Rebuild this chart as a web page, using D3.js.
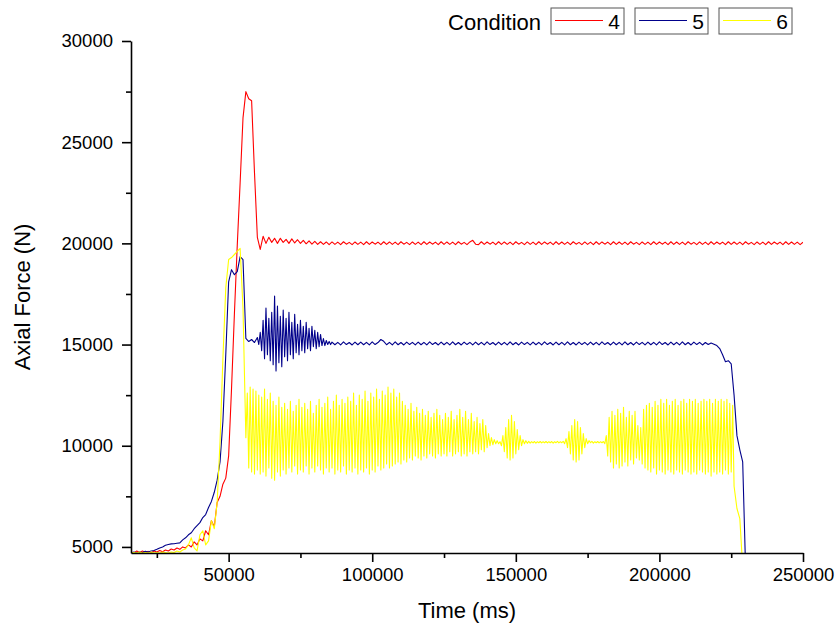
<!DOCTYPE html>
<html>
<head>
<meta charset="utf-8">
<script src="https://cdn.jsdelivr.net/npm/d3@7"></script>
<style>
  body { margin: 0; background: #fff; }
  svg { display: block; font-family: "Liberation Sans", Arial, sans-serif; }
</style>
</head>
<body>
<svg id="vis" width="839" height="637"></svg>
<script>
// sample times (ms) for each condition; readings are denser where the load oscillates
const condition4Time = d3.range(16000, 251000, 1000);
const condition5Time = [...d3.range(16000, 60000, 1000), ...d3.range(60000, 86000, 500), ...d3.range(86000, 231000, 1000)];
const condition6Time = [...d3.range(16000, 56000, 1000), ...d3.range(56000, 226000, 500), ...d3.range(226000, 230000, 1000)];

// condition 4 axial force (N)
const condition4 = [
  4750, 4700, 4800, 4720, 4800, 4720, 4780, 4700, 4800, 4750,
  4820, 4760, 4850, 4800, 4900, 4850, 4950, 4880, 5000, 4950,
  5100, 5000, 5250, 5100, 5400, 5300, 5800, 5600, 6300, 6000,
  7200, 7500, 8100, 8400, 9500, 12800, 16500, 19900, 23000, 26200,
  27500, 27150, 27050, 23500, 20300, 19700, 20350, 20000, 20300, 20050,
  20250, 20000, 20250, 20050, 20200, 20000, 20220, 20020, 20180, 20000,
  20150, 19980, 20120, 19960, 20100, 19950, 20080, 19950, 20070, 19940,
  20070, 19950, 20060, 19940, 20080, 19960, 20050, 19940, 20070, 19950,
  20060, 19940, 20080, 19950, 20070, 19960, 20060, 19940, 20080, 19950,
  20070, 19950, 20060, 19940, 20080, 19960, 20050, 19940, 20070, 19950,
  20060, 19940, 20080, 19950, 20070, 19960, 20060, 19940, 20080, 19950,
  20070, 19950, 20060, 19940, 20080, 19960, 20050, 19940, 20070, 20150,
  19960, 19940, 20080, 19950, 20070, 19960, 20060, 19940, 20080, 19950,
  20070, 19950, 20060, 19940, 20080, 19960, 20050, 19940, 20070, 19950,
  20060, 19940, 20080, 19950, 20070, 19960, 20060, 19940, 20080, 19950,
  20070, 19950, 20060, 19940, 20080, 19960, 20050, 19940, 20070, 19950,
  20060, 19940, 20080, 19950, 20070, 19960, 20060, 19940, 20080, 19950,
  20070, 19950, 20060, 19940, 20080, 19960, 20050, 19940, 20070, 19950,
  20060, 19940, 20080, 19950, 20070, 19960, 20060, 19940, 20080, 19950,
  20070, 19950, 20060, 19940, 20080, 19960, 20050, 19940, 20070, 19950,
  20060, 19940, 20080, 19950, 20070, 19960, 20060, 19940, 20080, 19950,
  20070, 19950, 20060, 19940, 20080, 19960, 20050, 19940, 20070, 19950,
  20060, 19940, 20080, 19950, 20070, 19960, 20060, 19940, 20080, 19950,
  20070, 19950, 20060, 19940, 20060
];

// condition 5 axial force (N)
const condition5 = [
  4700, 4750, 4700, 4750, 4720, 4780, 4750, 4800, 4820, 4880,
  4950, 5000, 5080, 5120, 5150, 5160, 5180, 5200, 5350, 5450,
  5600, 5700, 5900, 6050, 6200, 6450, 6600, 6950, 7250, 7700,
  8300, 9200, 11200, 14500, 18100, 18700, 18450, 18600, 19350, 19200,
  15300, 15150, 15250, 15100,
  15350, 15000, 15600, 14700, 16200, 14300, 16800, 14500, 16300, 14200,
  16600, 14000, 17400, 13700, 16900, 14100, 16400, 13900, 16700, 14400,
  16300, 14200, 16600, 14500, 16100, 14300, 16500, 14600, 16000, 14500,
  16200, 14700, 15900, 14600, 16100, 14800, 15800, 14700, 15900, 14900,
  15700, 14800, 15600, 14900, 15500, 14950, 15300, 14950, 15200, 15000,
  15150, 15000,
  15120, 14990, 15110, 14980, 15130, 15000, 15100, 14980, 15120, 14990,
  15120, 14990, 15110, 14980, 15130, 15000, 15100, 15250, 15160, 14990,
  15110, 14980, 15130, 14990, 15100, 14980, 15120, 15000, 15110, 14980,
  15120, 14990, 15110, 14980, 15130, 15000, 15100, 14980, 15120, 14990,
  15110, 14980, 15130, 14990, 15100, 14980, 15120, 15000, 15110, 14980,
  15120, 14990, 15110, 14980, 15130, 15000, 15100, 14980, 15120, 14990,
  15110, 14980, 15130, 14990, 15100, 14980, 15120, 15000, 15110, 14980,
  15120, 14990, 15110, 14980, 15130, 15000, 15100, 14980, 15120, 14990,
  15110, 14980, 15130, 14990, 15100, 14980, 15120, 15000, 15110, 14980,
  15120, 14990, 15110, 14980, 15130, 15000, 15100, 14980, 15120, 14990,
  15110, 14980, 15130, 14990, 15100, 14980, 15120, 15000, 15110, 14980,
  15120, 14990, 15110, 14980, 15130, 15000, 15100, 14980, 15120, 14990,
  15110, 14980, 15130, 14990, 15100, 14980, 15120, 15000, 15110, 14980,
  15100, 15000, 15080, 15020, 14950, 14800, 14500, 14150, 14200, 14050,
  12500, 10500, 9800, 9200, 4000
];

// condition 6 axial force (N)
const condition6 = [
  4700, 4720, 4700, 4750, 4700, 4720, 4700, 4750, 4700, 4720,
  4700, 4750, 4720, 4700, 4750, 4720, 4800, 4750, 4850, 4900,
  5100, 5450, 4950, 4800, 5600, 5800, 5100, 5300, 6300, 5900,
  7200, 10200, 14300, 17800, 19200, 19300, 19450, 19600, 19750, 16800,
  10400, 12600, 8900, 12900, 8700, 12800, 8600, 12700, 8800, 12500,
  8600, 12400, 8700, 12800, 8500, 12300, 8900, 12600, 8400, 12200,
  8300, 12000, 8700, 12400, 8500, 11900, 8800, 12100, 8600, 11800,
  8900, 12200, 8700, 11700, 9000, 12000, 8600, 12300, 8800, 11900,
  8700, 12100, 9000, 11800, 8600, 12200, 8900, 11600, 8700, 12000,
  9000, 12300, 8800, 11900, 8600, 12100, 8900, 12400, 8700, 11800,
  8900, 12200, 8600, 12500, 8800, 12000, 8700, 12300, 9000, 12100,
  8600, 12400, 8800, 12200, 8700, 12600, 8900, 12000, 8600, 12500,
  8800, 12300, 8700, 12700, 8900, 12200, 8600, 12600, 8800, 12400,
  8700, 12800, 9000, 12300, 8800, 12700, 8900, 12500, 9100, 12900,
  8900, 12600, 9000, 12800, 9100, 12400, 9200, 12600, 9100, 12200,
  9300, 12000, 9200, 11800, 9400, 12100, 9300, 11700, 9500, 11900,
  9400, 11600, 9300, 11800, 9500, 11500, 9400, 11700, 9600, 11400,
  9500, 11600, 9400, 11800, 9600, 11500, 9500, 11300, 9600, 11600,
  9500, 11400, 9700, 11700, 9500, 11300, 9600, 11500, 9700, 11800,
  9500, 11400, 9600, 11700, 9500, 11300, 9700, 11600, 9600, 11200,
  9700, 11400, 9600, 11100, 9800, 11300, 9700, 11000, 9900, 10600,
  10000, 10400, 10050, 10300, 10100, 10250, 10100, 10200, 10000, 10500,
  9700, 10900, 9400, 11300, 9300, 11500, 9400, 11200, 9600, 10800,
  9800, 10500, 10000, 10300, 10100, 10250, 10120, 10220, 10130, 10200,
  10140, 10210, 10130, 10200, 10150, 10210, 10140, 10200, 10150, 10210,
  10140, 10200, 10150, 10210, 10130, 10200, 10150, 10220, 10140, 10200,
  10150, 10220, 10100, 10350, 9900, 10700, 9600, 11000, 9300, 11300,
  9200, 11200, 9300, 10900, 9600, 10600, 9900, 10350, 10100, 10250,
  10150, 10220, 10130, 10200, 10150, 10210, 10140, 10200, 10150, 10210,
  10100, 10500, 9500, 11400, 9200, 11700, 8900, 11500, 9100, 11800,
  8900, 11600, 9000, 11900, 9200, 11400, 9000, 11700, 9300, 11500,
  9100, 11700, 9400, 11000, 9300, 10900, 9100, 11800, 8900, 12000,
  8800, 12100, 8700, 11900, 8900, 12200, 8600, 12000, 8800, 12300,
  8700, 12100, 8600, 12300, 8800, 12000, 8700, 12200, 8600, 12300,
  8800, 12000, 8700, 12200, 8600, 12300, 8800, 12100, 8700, 12300,
  8600, 12200, 8700, 12300, 8600, 12100, 8800, 12200, 8700, 12300,
  8600, 12200, 8700, 12300, 8500, 12100, 8700, 12300, 8600, 12200,
  8700, 12300, 8600, 12200, 8800, 12300, 8600, 12100, 8700, 12000,
  8000, 6900, 6400, 4000
];

const conditions = ["4", "5", "6"];
const colours = ["#ff0000", "#00008b", "#ffff00"];

const yTicks = [5000, 10000, 15000, 20000, 25000, 30000];
const yMinorTicks = [7500, 12500, 17500, 22500, 27500];
const xTicks = [50000, 100000, 150000, 200000, 250000];
const xMinorTicks = [25000, 75000, 125000, 175000, 225000];

const marginLeft = 131;
const marginRight = 803;
const marginTop = 41;
const marginBottom = 553;

const svg = d3.select("#vis");

const x = d3.scaleLinear().domain([16000, 250000]).range([marginLeft, marginRight]);
const y = d3.scaleLinear().domain([4700, 30000]).range([marginBottom, marginTop]);

const times = [condition4Time, condition5Time, condition6Time];
const series = [condition4, condition5, condition6].map((values, k) => ({
  name: conditions[k],
  colour: colours[k],
  points: values.map((v, i) => ({ t: times[k][i], v: v }))
}));

svg.append("clipPath")
  .attr("id", "plotClip")
  .append("rect")
  .attr("x", marginLeft)
  .attr("y", marginTop - 5)
  .attr("width", marginRight - marginLeft)
  .attr("height", marginBottom - marginTop + 5);

const drawLine = d3.line()
  .x(d => x(d.t))
  .y(d => y(d.v));

svg.append("g")
  .attr("clip-path", "url(#plotClip)")
  .selectAll("path")
  .data(series)
  .join("path")
  .attr("d", d => drawLine(d.points))
  .attr("fill", "none")
  .attr("stroke", d => d.colour)
  .attr("stroke-width", 1.1)
  .attr("stroke-linejoin", "round");

// axes
svg.append("g")
  .attr("transform", `translate(${marginLeft},0)`)
  .call(d3.axisLeft(y).tickValues(yTicks).tickSize(9).tickSizeOuter(0).tickPadding(9).tickFormat(d3.format("d")));

svg.append("g")
  .attr("transform", `translate(${marginLeft},0)`)
  .call(d3.axisLeft(y).tickValues(yMinorTicks).tickSize(5).tickSizeOuter(0).tickFormat(""))
  .select(".domain").remove();

svg.append("g")
  .attr("transform", `translate(0,${marginBottom})`)
  .call(d3.axisBottom(x).tickValues(xTicks).tickSize(9).tickSizeOuter(0).tickPadding(6).tickFormat(d3.format("d")));

svg.append("g")
  .attr("transform", `translate(0,${marginBottom})`)
  .call(d3.axisBottom(x).tickValues(xMinorTicks).tickSize(5).tickSizeOuter(0).tickFormat(""))
  .select(".domain").remove();

svg.selectAll(".domain, .tick line")
  .attr("stroke", "#000")
  .attr("stroke-width", 1.6);

svg.selectAll(".tick text")
  .attr("fill", "#000")
  .style("font-family", "'Liberation Sans', Arial, sans-serif")
  .style("font-size", "18.5px");

svg.append("text")
  .attr("x", (marginLeft + marginRight) / 2)
  .attr("y", 618)
  .attr("text-anchor", "middle")
  .style("font-size", "22px")
  .text("Time (ms)");

svg.append("text")
  .attr("transform", `translate(30,${(marginTop + marginBottom) / 2}) rotate(-90)`)
  .attr("text-anchor", "middle")
  .style("font-size", "22px")
  .text("Axial Force (N)");

// legend
svg.append("text")
  .attr("x", 541)
  .attr("y", 30)
  .attr("text-anchor", "end")
  .style("font-size", "22px")
  .text("Condition");

const legend = svg.append("g")
  .selectAll("g")
  .data(series)
  .join("g")
  .attr("transform", (d, i) => `translate(${551 + i * 84},8)`);

legend.append("rect")
  .attr("width", 73)
  .attr("height", 26)
  .attr("fill", "#fff")
  .attr("stroke", "#555")
  .attr("stroke-width", 1);

legend.append("line")
  .attr("x1", 4)
  .attr("x2", 52)
  .attr("y1", 12.5)
  .attr("y2", 12.5)
  .attr("stroke", d => d.colour)
  .attr("stroke-width", 1.2);

legend.append("text")
  .attr("x", 69)
  .attr("y", 21)
  .attr("text-anchor", "end")
  .style("font-size", "21px")
  .text(d => d.name);
</script>
</body>
</html>
